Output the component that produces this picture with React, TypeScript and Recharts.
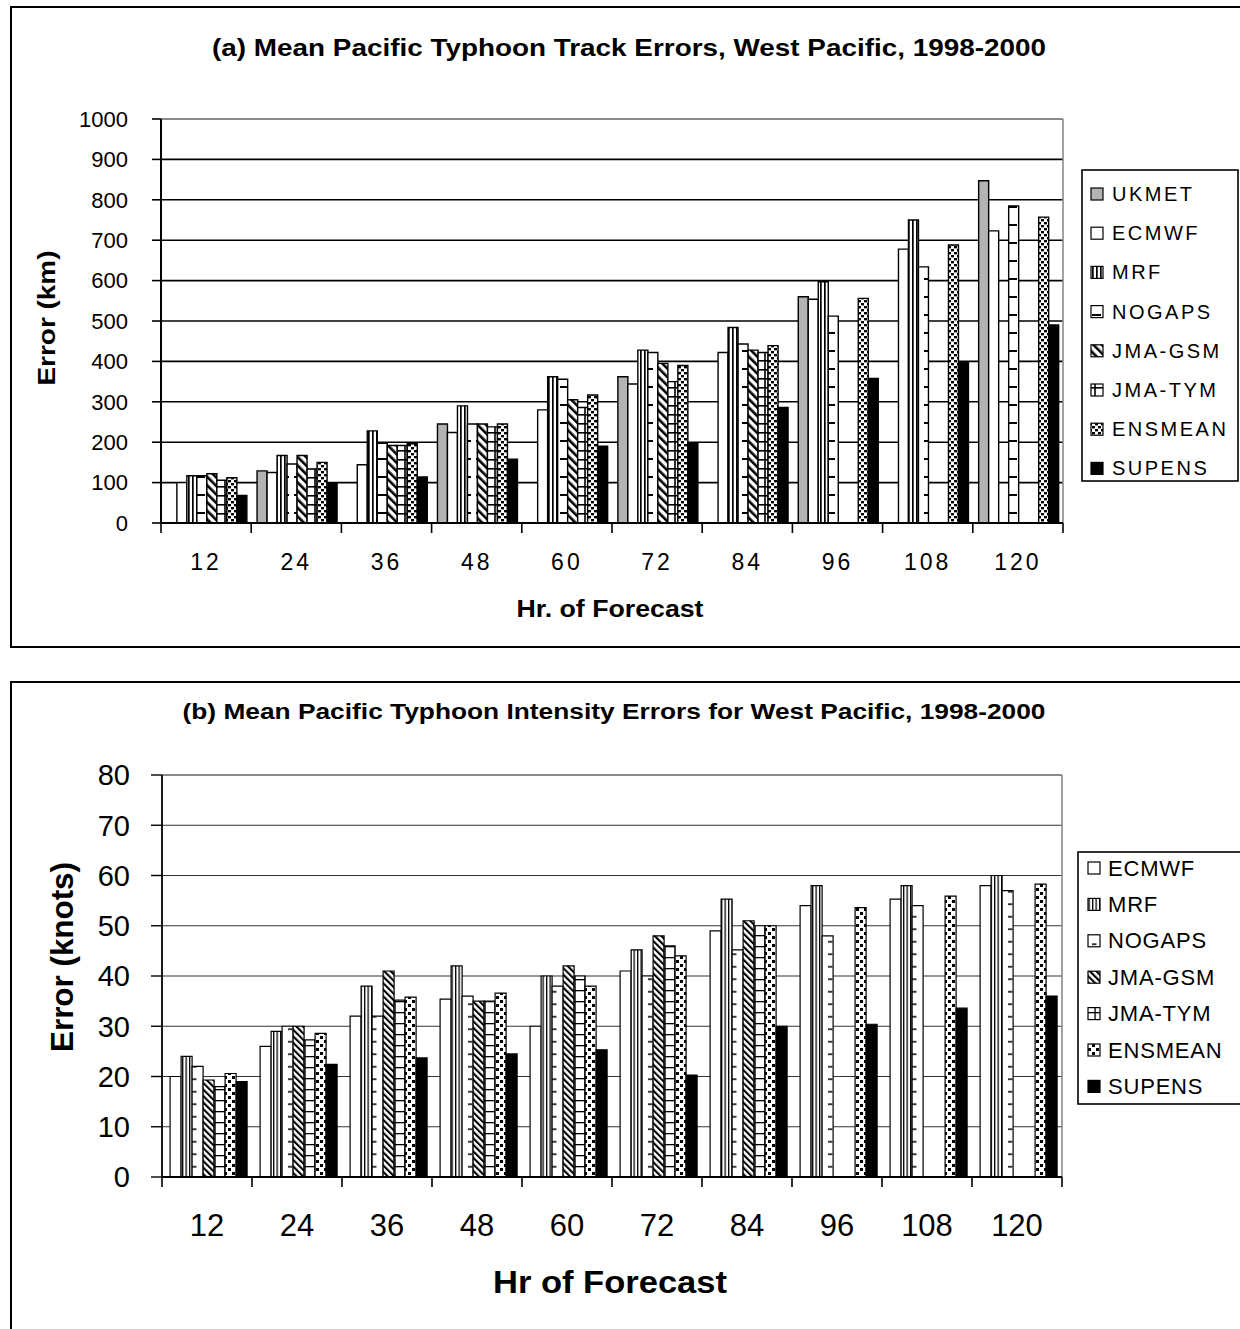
import React from 'react';
import { BarChart, Bar, XAxis, YAxis, CartesianGrid, ReferenceLine } from 'recharts';

const FONT = '"Liberation Sans", Arial, Helvetica, sans-serif';

// ---------- categories ----------
const hours = ['12', '24', '36', '48', '60', '72', '84', '96', '108', '120'];

// ---------- (a) track errors (km) ----------
const trackNames = ['UKMET', 'ECMWF', 'MRF', 'NOGAPS', 'JMA-GSM', 'JMA-TYM', 'ENSMEAN', 'SUPENS'];
const trackUKMET = [null, 129, null, 245, null, 362, null, 560, null, 847];
const trackECMWF = [100, 125, 144, 224, 280, 344, 422, 554, 678, 723];
const trackMRF = [117, 167, 228, 290, 362, 428, 484, 597, 750, null];
const trackNOGAPS = [117, 146, 197, 245, 356, 422, 443, 512, 634, 785];
const trackJMAGSM = [122, 167, 192, 245, 305, 395, 428, null, null, null];
const trackJMATYM = [106, 134, 192, 238, 286, 350, 422, null, null, null];
const trackENSMEAN = [112, 150, 196, 245, 317, 390, 439, 556, 688, 757];
const trackSUPENS = [68, 100, 114, 158, 190, 199, 286, 358, 399, 490];
const trackTicks = [0, 100, 200, 300, 400, 500, 600, 700, 800, 900, 1000];

// ---------- (b) intensity errors (knots) ----------
const intNames = ['ECMWF', 'MRF', 'NOGAPS', 'JMA-GSM', 'JMA-TYM', 'ENSMEAN', 'SUPENS'];
const intECMWF = [20, 26, 32, 35.4, 30, 41, 49, 54, 55.3, 58];
const intMRF = [24, 29, 38, 42, 40, 45.2, 55.3, 58, 58, 60];
const intNOGAPS = [22, 30, 32, 36, 38, 40, 45.2, 48, 54, 57];
const intJMAGSM = [19.3, 30, 41, 35, 42, 48, 51, null, null, null];
const intJMATYM = [18, 27.3, 35.2, 35, 40, 46, 50, null, null, null];
const intENSMEAN = [20.6, 28.6, 35.8, 36.6, 38, 44, 50, 53.6, 55.9, 58.3];
const intSUPENS = [19, 22.4, 23.7, 24.5, 25.3, 20.3, 30, 30.4, 33.6, 36];
const intTicks = [0, 10, 20, 30, 40, 50, 60, 70, 80];

// ---------- tables built from the arrays ----------
const trackCols = [trackUKMET, trackECMWF, trackMRF, trackNOGAPS, trackJMAGSM, trackJMATYM, trackENSMEAN, trackSUPENS];
const intCols = [intECMWF, intMRF, intNOGAPS, intJMAGSM, intJMATYM, intENSMEAN, intSUPENS];

const trackData = hours.map((h, i) => {
  const row: any = { hr: h };
  trackNames.forEach((n, k) => (row[n] = trackCols[k][i]));
  return row;
});
const intData = hours.map((h, i) => {
  const row: any = { hr: h };
  intNames.forEach((n, k) => (row[n] = intCols[k][i]));
  return row;
});

// ---------- styles ----------
const trackFills: Record<string, string> = {
  UKMET: '#b3b3b3',
  ECMWF: '#ffffff',
  MRF: 'url(#aMRF)',
  NOGAPS: 'url(#aNOG)',
  'JMA-GSM': 'url(#aGSM)',
  'JMA-TYM': 'url(#aTYM)',
  ENSMEAN: 'url(#aENS)',
  SUPENS: '#000000',
};
const intFills: Record<string, string> = {
  ECMWF: '#ffffff',
  MRF: 'url(#bMRF)',
  NOGAPS: 'url(#bNOG)',
  'JMA-GSM': 'url(#bGSM)',
  'JMA-TYM': 'url(#bTYM)',
  ENSMEAN: 'url(#bENS)',
  SUPENS: '#000000',
};

function PatternDefs() {
  return (
    <svg width={0} height={0} style={{ position: 'absolute', left: 0, top: 0 }}>
      <defs>
        <pattern id="aMRF" patternUnits="userSpaceOnUse" width={4} height={4}>
          <rect width={4} height={4} fill="#fff" />
          <rect width={1.7} height={4} fill="#000" />
        </pattern>
        <pattern id="aNOG" patternUnits="userSpaceOnUse" width={14} height={18}>
          <rect width={14} height={18} fill="#fff" />
          <rect x={0} y={8} width={9} height={2} fill="#000" />
        </pattern>
        <pattern id="aGSM" patternUnits="userSpaceOnUse" width={6} height={6} patternTransform="rotate(-45)">
          <rect width={6} height={6} fill="#fff" />
          <rect width={2.6} height={6} fill="#000" />
        </pattern>
        <pattern id="aTYM" patternUnits="userSpaceOnUse" width={10} height={9}>
          <rect width={10} height={9} fill="#fff" />
          <rect y={0} width={10} height={1.6} fill="#000" />
          <rect x={4.2} width={1.6} height={9} fill="#000" />
        </pattern>
        <pattern id="aENS" patternUnits="userSpaceOnUse" width={6} height={6}>
          <rect width={6} height={6} fill="#fff" />
          <rect x={0} y={0} width={3} height={2.4} fill="#000" />
          <rect x={3} y={3} width={3} height={2.4} fill="#000" />
        </pattern>

        <pattern id="bMRF" patternUnits="userSpaceOnUse" width={3.5} height={4}>
          <rect width={3.5} height={4} fill="#fff" />
          <rect width={1.3} height={4} fill="#000" />
        </pattern>
        <pattern id="bNOG" patternUnits="userSpaceOnUse" width={12} height={12.5}>
          <rect width={12} height={12.5} fill="#fff" />
          <rect x={0} y={6} width={4.5} height={1.5} fill="#000" />
        </pattern>
        <pattern id="bGSM" patternUnits="userSpaceOnUse" width={4.6} height={4.6} patternTransform="rotate(-45)">
          <rect width={4.6} height={4.6} fill="#fff" />
          <rect width={2.1} height={4.6} fill="#000" />
        </pattern>
        <pattern id="bTYM" patternUnits="userSpaceOnUse" width={10} height={11}>
          <rect width={10} height={11} fill="#fff" />
          <rect y={0} width={10} height={1.3} fill="#000" />
          <rect x={4.4} width={1.3} height={11} fill="#000" />
        </pattern>
        <pattern id="bENS" patternUnits="userSpaceOnUse" width={8} height={8}>
          <rect width={8} height={8} fill="#fff" />
          <rect x={0} y={0} width={3} height={3} fill="#000" />
          <rect x={4} y={4} width={3} height={3} fill="#000" />
        </pattern>
      </defs>
    </svg>
  );
}

function makeTick(half: number, tickLen: number, dy: number, fontSize: number, ls: number) {
  return (props: any) => {
    const { x, y, payload, index } = props;
    const last = index === hours.length - 1;
    return (
      <g>
        <line x1={x - half} x2={x - half} y1={y} y2={y + tickLen} stroke="#000" strokeWidth={1.6} />
        {last && <line x1={x + half} x2={x + half} y1={y} y2={y + tickLen} stroke="#000" strokeWidth={1.6} />}
        <text
          x={x}
          y={y + dy}
          textAnchor="middle"
          dominantBaseline="central"
          fontSize={fontSize}
          fontFamily={FONT}
          letterSpacing={ls}
          fill="#000"
        >
          {payload.value}
        </text>
      </g>
    );
  };
}

// plot areas
const A_LEFT = 161, A_RIGHT = 1063;
const B_LEFT = 162, B_RIGHT = 1062;

function TrackChart() {
  const TickA = makeTick((A_RIGHT - A_LEFT) / 20, 10, 39, 23, 3);
  return (
    <BarChart
      width={1240}
      height={660}
      data={trackData}
      margin={{ top: 119, right: 1240 - A_RIGHT, left: A_LEFT - 60, bottom: 77 }}
      barCategoryGap="6.5%"
      barGap={0}
    >
      <CartesianGrid vertical={false} stroke="#000" strokeWidth={1.6} />
      {trackNames.map((n) => (
        <Bar key={n} dataKey={n} fill={trackFills[n]} stroke="#000" strokeWidth={1.4} isAnimationActive={false} />
      ))}
      <ReferenceLine y={1000} stroke="#8a8a8a" strokeWidth={2.2} />
      <ReferenceLine x="120" position="end" stroke="#8a8a8a" strokeWidth={1.6} />
      <XAxis
        dataKey="hr"
        interval={0}
        height={60}
        tickSize={0}
        tickMargin={0}
        tickLine={false}
        axisLine={{ stroke: '#000', strokeWidth: 2 }}
        tick={<TickA />}
      />
      <YAxis
        domain={[0, 1000]}
        ticks={trackTicks}
        interval={0}
        width={60}
        tickSize={9}
        tickMargin={24}
        axisLine={{ stroke: '#000', strokeWidth: 2 }}
        tickLine={{ stroke: '#000', strokeWidth: 1.6 }}
        tick={{ fontSize: 22, fill: '#000', fontFamily: FONT }}
      />
    </BarChart>
  );
}

function IntensityChart() {
  const TickB = makeTick((B_RIGHT - B_LEFT) / 20, 10, 48, 31, 0);
  return (
    <BarChart
      width={1240}
      height={669}
      data={intData}
      margin={{ top: 115, right: 1240 - B_RIGHT, left: B_LEFT - 60, bottom: 92 }}
      barCategoryGap="9%"
      barGap={0}
    >
      <CartesianGrid vertical={false} stroke="#333" strokeWidth={1.2} />
      {intNames.map((n) => (
        <Bar key={n} dataKey={n} fill={intFills[n]} stroke="#000" strokeWidth={1.2} isAnimationActive={false} />
      ))}
      <ReferenceLine y={80} stroke="#8a8a8a" strokeWidth={2} />
      <ReferenceLine x="120" position="end" stroke="#8a8a8a" strokeWidth={1.6} />
      <XAxis
        dataKey="hr"
        interval={0}
        height={60}
        tickSize={0}
        tickMargin={0}
        tickLine={false}
        axisLine={{ stroke: '#000', strokeWidth: 1.8 }}
        tick={<TickB />}
      />
      <YAxis
        domain={[0, 80]}
        ticks={intTicks}
        interval={0}
        width={60}
        tickSize={11}
        tickMargin={21}
        axisLine={{ stroke: '#000', strokeWidth: 1.8 }}
        tickLine={{ stroke: '#000', strokeWidth: 1.4 }}
        tick={{ fontSize: 29, fill: '#000', fontFamily: FONT }}
      />
    </BarChart>
  );
}

function LegendBox(p: {
  names: string[];
  fills: Record<string, string>;
  x: number; y: number; w: number; h: number;
  firstY: number; step: number; swX: number; sw: number; textX: number; fontSize: number; ls: number;
}) {
  return (
    <g>
      <rect x={p.x} y={p.y} width={p.w} height={p.h} fill="#fff" stroke="#000" strokeWidth={1.6} />
      {p.names.map((n, i) => {
        const cy = p.firstY + i * p.step;
        return (
          <g key={n}>
            <rect x={p.swX} y={cy - p.sw / 2} width={p.sw} height={p.sw} fill={p.fills[n]} stroke="#000" strokeWidth={1.2} />
            <text x={p.textX} y={cy} dominantBaseline="central" fontSize={p.fontSize} fontFamily={FONT} letterSpacing={p.ls} fill="#000">
              {n}
            </text>
          </g>
        );
      })}
    </g>
  );
}

function Overlay() {
  return (
    <svg width={1240} height={1329} style={{ position: 'absolute', left: 0, top: 0, pointerEvents: 'none' }}>
      {/* frames */}
      <rect x={11} y={7} width={1260} height={640} fill="none" stroke="#000" strokeWidth={2} />
      <rect x={11} y={682} width={1260} height={700} fill="none" stroke="#000" strokeWidth={2} />

      {/* (a) texts */}
      <text x={629} y={47} textAnchor="middle" dominantBaseline="central" fontSize={24} fontWeight="bold" fontFamily={FONT}
        textLength={834} lengthAdjust="spacingAndGlyphs" fill="#000">
        (a)  Mean Pacific Typhoon Track Errors, West Pacific, 1998-2000
      </text>
      <text x={610} y={609} textAnchor="middle" dominantBaseline="central" fontSize={23} fontWeight="bold" fontFamily={FONT}
        textLength={187} lengthAdjust="spacingAndGlyphs" fill="#000">
        Hr. of Forecast
      </text>
      <text x={0} y={0} transform="translate(47,318) rotate(-90)" textAnchor="middle" dominantBaseline="central" fontSize={23}
        fontWeight="bold" fontFamily={FONT} textLength={135} lengthAdjust="spacingAndGlyphs" fill="#000">
        Error (km)
      </text>

      {/* (b) texts */}
      <text x={614} y={711} textAnchor="middle" dominantBaseline="central" fontSize={22} fontWeight="bold" fontFamily={FONT}
        textLength={863} lengthAdjust="spacingAndGlyphs" fill="#000">
        (b) Mean Pacific Typhoon Intensity Errors for West Pacific, 1998-2000
      </text>
      <text x={610} y={1282} textAnchor="middle" dominantBaseline="central" fontSize={32} fontWeight="bold" fontFamily={FONT}
        textLength={234} lengthAdjust="spacingAndGlyphs" fill="#000">
        Hr of Forecast
      </text>
      <text x={0} y={0} transform="translate(62,957) rotate(-90)" textAnchor="middle" dominantBaseline="central" fontSize={31}
        fontWeight="bold" fontFamily={FONT} textLength={190} lengthAdjust="spacingAndGlyphs" fill="#000">
        Error (knots)
      </text>

      <LegendBox names={trackNames} fills={trackFills} x={1082} y={170} w={156} h={311}
        firstY={194} step={39.2} swX={1091} sw={12} textX={1112} fontSize={20} ls={2.5} />
      <LegendBox names={intNames} fills={intFills} x={1078} y={852} w={180} h={252}
        firstY={868} step={36.4} swX={1088} sw={12} textX={1108} fontSize={22} ls={0.8} />
    </svg>
  );
}

export default function App() {
  return (
    <div style={{ position: 'absolute', left: 0, top: 0, width: 1240, height: 1329, overflow: 'hidden', background: '#fff', fontFamily: FONT }}>
      <PatternDefs />
      <div style={{ position: 'absolute', left: 0, top: 0 }}>
        <TrackChart />
      </div>
      <div style={{ position: 'absolute', left: 0, top: 660 }}>
        <IntensityChart />
      </div>
      <Overlay />
    </div>
  );
}
